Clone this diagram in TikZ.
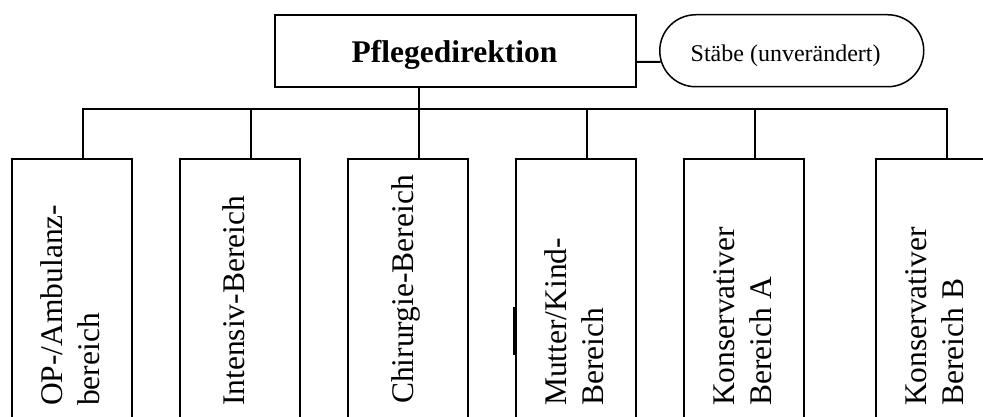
\documentclass[tikz,border=0pt]{standalone}
\usepackage{fontspec}
\setmainfont{Liberation Serif}
\begin{document}
\begin{tikzpicture}[x=1pt,y=-1pt,
  line/.style={line width=2pt, line cap=rect},
  areabox/.style={draw, line width=2pt, rectangle, minimum width=120pt,
    minimum height=320pt, anchor=north west, inner sep=0pt},
  areatext/.style={rotate=90, anchor=west, align=left, inner sep=0pt,
    font=\fontsize{31.5pt}{37.5pt}\selectfont},
  ]
\useasboundingbox (0,0) rectangle (983,417);
\clip (0,0) rectangle (983,417);

% top
\node[draw, line width=2pt, rectangle, minimum width=361pt, minimum height=72pt,
  inner sep=0pt, anchor=north west] (dir) at (274,14) {};
\node[anchor=base, inner sep=0pt, font=\bfseries\fontsize{31.5pt}{37pt}\selectfont]
  (dirtext) at (454.5,63) {Pflegedirektion};
\node[draw, line width=1.5pt, rectangle, rounded corners=36pt, minimum width=264pt,
  minimum height=72pt, inner sep=0pt, anchor=north west] (stab) at (659,14) {};
\node[anchor=base west, inner sep=0pt, font=\fontsize{24pt}{28pt}\selectfont]
  (stabtext) at (690.5,61.5) {Stäbe (unverändert)};
\draw[line width=2pt] ([yshift=-11pt]dir.east) -- ([xshift=1.7pt,yshift=-11pt]stab.west);

% boxes
\node[areabox] (b1) at (11,158) {};
\node[areabox] (b2) at (179,158) {};
\node[areabox] (b3) at (347,158) {};
\node[areabox] (b4) at (515,158) {};
\node[areabox] (b5) at (683,158) {};
\node[areabox] (b6) at (875,158) {};

\foreach \i in {1,...,6} {
  \coordinate (c\i) at ([xshift=72pt]b\i.north west);
}
\coordinate (bus) at (0,109);
\draw[line] (c1 |- bus) -- (c6 |- bus);
\foreach \i in {1,...,6} {
  \draw[line] (c\i |- bus) -- (c\i);
}
\draw[line] (dir.south -| c3) -- (c3 |- bus);

% thicker piece on box 4 edge
\draw[line width=4pt] ([yshift=-149pt]b4.north west) -- ([yshift=-197pt]b4.north west);

% texts
\node[areatext] (t1) at (73.5,406) {OP-/Ambulanz-\strut\\bereich\strut};
\node[areatext] (t2) at (237,406) {Intensiv-Bereich\strut};
\node[areatext] (t3) at (406,404) {Chirurgie-Bereich\strut};
\node[areatext] (t4) at (577.5,406) {Mutter/Kind-\strut\\Bereich\strut};
\node[areatext] (t5) at (745.5,406) {Konservativer\strut\\Bereich A\strut};
\node[areatext] (t6) at (937.5,406) {Konservativer\strut\\Bereich B\strut};
\end{tikzpicture}
\end{document}
